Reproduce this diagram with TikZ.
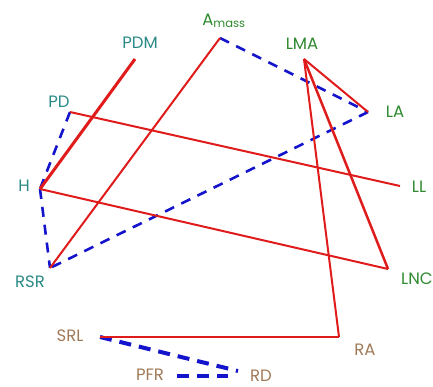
\documentclass[tikz,border=0pt]{standalone}
\usepackage{fontspec}
\setmainfont{Poppins}
\definecolor{teal1}{HTML}{2A8A86}
\definecolor{green1}{HTML}{2E8A2E}
\definecolor{brown1}{HTML}{A07A58}
\definecolor{red1}{HTML}{E01B1B}
\definecolor{blue1}{HTML}{1414CC}
\tikzset{
  pt/.style={inner sep=0pt, minimum size=0pt},
  lab/.style={font=\fontsize{16.5}{18}\selectfont, inner sep=0pt},
  tl/.style={lab, text=teal1},
  gl/.style={lab, text=green1},
  bl/.style={lab, text=brown1},
  redl/.style={draw=red1, line width=2pt},
  redthick/.style={draw=red1, line width=3pt},
  bluel/.style={draw=blue1, line width=2.6pt, dash pattern=on 10pt off 8pt},
  bluethick/.style={draw=blue1, line width=4pt, dash pattern=on 12pt off 8pt},
}
\begin{document}
\begin{tikzpicture}[x=1pt,y=-1pt]
\useasboundingbox (0,0) rectangle (433,387);
% points
\coordinate (PDM) at (135,59);
\coordinate (Am) at (220,38);
\coordinate (LMA) at (304,59);
\coordinate (LA) at (368,112);
\coordinate (LL) at (400,186);
\coordinate (LNC) at (388,269);
\coordinate (RA) at (339,337);
\coordinate (SRL) at (100,337);
\coordinate (PFR) at (177,376);
\coordinate (RDa) at (228,376);
\coordinate (RD) at (238,371);
\coordinate (PD) at (70,112);
\coordinate (H) at (40,189);
\coordinate (RSR) at (50,268);
% labels
\node[tl] (lPDM) at (140,43) {PDM};
\node[gl] (lAm) at (224,21) {A\textsubscript{mass}};
\node[gl] (lLMA) at (302,44) {LMA};
\node[gl] (lLA) at (395,112) {LA};
\node[gl] (lLL) at (419,187) {LL};
\node[gl,anchor=west] (lLNC) at (401,279) {LNC};
\node[bl] (lRA) at (365,350) {RA};
\node[bl] (lSRL) at (70,336) {SRL};
\node[bl] (lPFR) at (150,375) {PFR};
\node[bl] (lRD) at (261,376) {RD};
\node[tl] (lPD) at (59,102) {PD};
\node[tl] (lH) at (24,186) {H};
\node[tl] (lRSR) at (30,282) {RSR};
% blue dashed
\draw[bluel] (Am) -- (LA);
\draw[bluel] (LA) -- (RSR);
\draw[bluel] (PD) -- (H);
\draw[bluel] (H) -- (RSR);
\draw[bluethick] (SRL) -- (RD);
\draw[bluethick] (PFR) -- (RDa);
% red
\draw[redthick] (H) -- (PDM);
\draw[redl] (PD) -- (LL);
\draw[redl] (H) -- (LNC);
\draw[redl] (RSR) -- (Am);
\draw[redl] (LMA) -- (LA);
\draw[redl, line width=2.5pt] (LMA) -- (LNC);
\draw[redl] (LMA) -- (RA);
\draw[redl] (RA) -- (SRL);
\end{tikzpicture}
\end{document}
